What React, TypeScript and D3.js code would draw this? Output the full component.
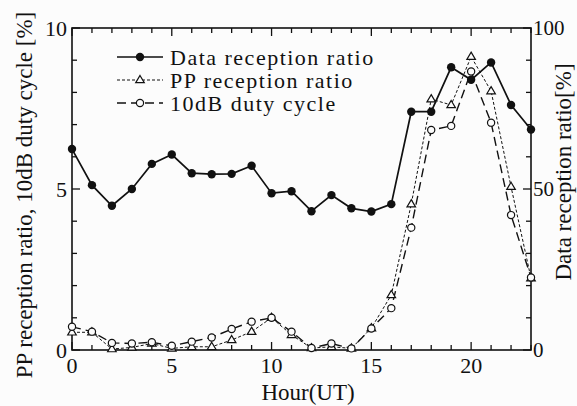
import React from "react";
import * as d3 from "d3";

const hours = [0, 1, 2, 3, 4, 5, 6, 7, 8, 9, 10, 11, 12, 13, 14, 15, 16, 17, 18, 19, 20, 21, 22, 23];
const dataReception = [62.4, 51.2, 44.8, 50.0, 57.8, 60.7, 54.9, 54.6, 54.7, 57.2, 48.7, 49.3, 43.1, 48.1, 44.0, 43.0, 45.3, 74.0, 74.0, 87.8, 83.9, 89.3, 76.1, 68.5];
const ppReception = [0.55, 0.55, 0.03, 0.08, 0.2, 0.05, 0.1, 0.1, 0.31, 0.57, 1.0, 0.47, 0.06, 0.1, 0.05, 0.68, 1.71, 4.53, 7.79, 7.61, 9.11, 8.04, 5.07, 2.23];
const dutyCycle = [0.72, 0.57, 0.22, 0.2, 0.24, 0.13, 0.26, 0.39, 0.65, 0.88, 1.0, 0.57, 0.06, 0.2, 0.05, 0.67, 1.3, 3.8, 6.83, 6.96, 8.65, 7.06, 4.19, 2.25];
const xTickLabels = [0, 5, 10, 15, 20];
const leftTickLabels = [0, 5, 10];
const rightTickLabels = [0, 50, 100];
const legendLabels = ["Data reception ratio", "PP reception ratio", "10dB duty cycle"];

const W = 577, H = 406;
const FONT = "Liberation Serif";
const ts = { fontFamily: FONT };

export default function App() {
  const x = d3.scaleLinear().domain([0, 23]).range([72, 531]);
  const yL = d3.scaleLinear().domain([0, 10]).range([350, 28]);
  const yR = d3.scaleLinear().domain([0, 100]).range([350, 28]);
  const [x0, x1] = x.range();
  const [yb, yt] = yL.range();

  const lineData = d3.line<number>().x((_, i) => x(hours[i])).y((d) => yR(d));
  const lineL = d3.line<number>().x((_, i) => x(hours[i])).y((d) => yL(d));

  const tri = (cx: number, cy: number, s = 4.5) =>
    `M${cx},${cy - s}L${cx + s * 0.95},${cy + s * 0.6}L${cx - s * 0.95},${cy + s * 0.6}Z`;

  const xTicks = d3.range(0, 24);
  const yTicks = d3.range(0, 11);

  const legY = [57, 80, 103];
  const legX0 = 117, legX1 = 163, legT = 170;

  return (
    <svg width={W} height={H} style={{ position: "absolute", left: 0, top: 0, background: "#fcfcfc" }}>
      <rect x={0} y={0} width={W} height={H} fill="#fcfcfc" />
      <rect x={x0} y={yt} width={x1 - x0} height={yb - yt} fill="none" stroke="#111" strokeWidth={1.6} />
      {xTicks.map((t) => {
        const len = t % 5 === 0 ? 8 : 5;
        return (
          <g key={"xt" + t} stroke="#111" strokeWidth={1.3}>
            <line x1={x(t)} x2={x(t)} y1={yb} y2={yb - len} />
            <line x1={x(t)} x2={x(t)} y1={yt} y2={yt + len} />
          </g>
        );
      })}
      {yTicks.map((t) => {
        const len = t % 5 === 0 ? 8 : 5;
        return (
          <g key={"yt" + t} stroke="#111" strokeWidth={1.3}>
            <line x1={x0} x2={x0 + len} y1={yL(t)} y2={yL(t)} />
            <line x1={x1} x2={x1 - len} y1={yL(t)} y2={yL(t)} />
          </g>
        );
      })}
      {xTickLabels.map((t) => (
        <text key={"xl" + t} style={ts} x={x(t)} y={373} textAnchor="middle" fontSize={22} fill="#111">{t}</text>
      ))}
      {leftTickLabels.map((t) => (
        <text key={"ll" + t} style={ts} x={67} y={yL(t)} dy="0.35em" textAnchor="end" fontSize={22} fill="#111">{t}</text>
      ))}
      {rightTickLabels.map((t) => (
        <text key={"rl" + t} style={ts} x={533} y={yR(t)} dy="0.35em" textAnchor="start" fontSize={21} fill="#111">{t}</text>
      ))}
      <text style={ts} x={308} y={400} textAnchor="middle" fontSize={23} fill="#111">Hour(UT)</text>
      <text style={ts} transform={`translate(24,195) rotate(-90)`} textAnchor="middle" dy="0.35em" fontSize={23} fill="#111">
        PP reception ratio, 10dB duty cycle [%]
      </text>
      <text style={ts} transform={`translate(563,172) rotate(-90)`} textAnchor="middle" dy="0.35em" fontSize={23} fill="#111">
        Data reception ratio[%]
      </text>

      <path d={lineL(ppReception) || ""} fill="none" stroke="#111" strokeWidth={1} strokeDasharray="3,2" />
      <path d={lineL(dutyCycle) || ""} fill="none" stroke="#111" strokeWidth={1.4} strokeDasharray="9,5" />
      <path d={lineData(dataReception) || ""} fill="none" stroke="#111" strokeWidth={1.7} />
      {ppReception.map((v, i) => (
        <path key={"pp" + i} d={tri(x(hours[i]), yL(v))} fill="#fcfcfc" stroke="#111" strokeWidth={1.2} />
      ))}
      {dutyCycle.map((v, i) => (
        <circle key={"dc" + i} cx={x(hours[i])} cy={yL(v)} r={3.6} fill="#fcfcfc" stroke="#111" strokeWidth={1.2} />
      ))}
      {dataReception.map((v, i) => (
        <circle key={"dr" + i} cx={x(hours[i])} cy={yR(v)} r={4.2} fill="#111" />
      ))}

      <line x1={legX0} x2={legX1} y1={legY[0]} y2={legY[0]} stroke="#111" strokeWidth={1.7} />
      <circle cx={(legX0 + legX1) / 2} cy={legY[0]} r={4.2} fill="#111" />
      <line x1={legX0} x2={legX1} y1={legY[1]} y2={legY[1]} stroke="#111" strokeWidth={1} strokeDasharray="3,2" />
      <path d={tri((legX0 + legX1) / 2, legY[1])} fill="#fcfcfc" stroke="#111" strokeWidth={1.2} />
      <line x1={legX0} x2={legX1} y1={legY[2]} y2={legY[2]} stroke="#111" strokeWidth={1.4} strokeDasharray="9,5" />
      <circle cx={(legX0 + legX1) / 2} cy={legY[2]} r={3.6} fill="#fcfcfc" stroke="#111" strokeWidth={1.2} />
      {legendLabels.map((l, i) => (
        <text key={l} style={{ ...ts, letterSpacing: "1.5px" }} x={legT} y={legY[i]} dy="0.35em" fontSize={22} fill="#111">{l}</text>
      ))}
    </svg>
  );
}
